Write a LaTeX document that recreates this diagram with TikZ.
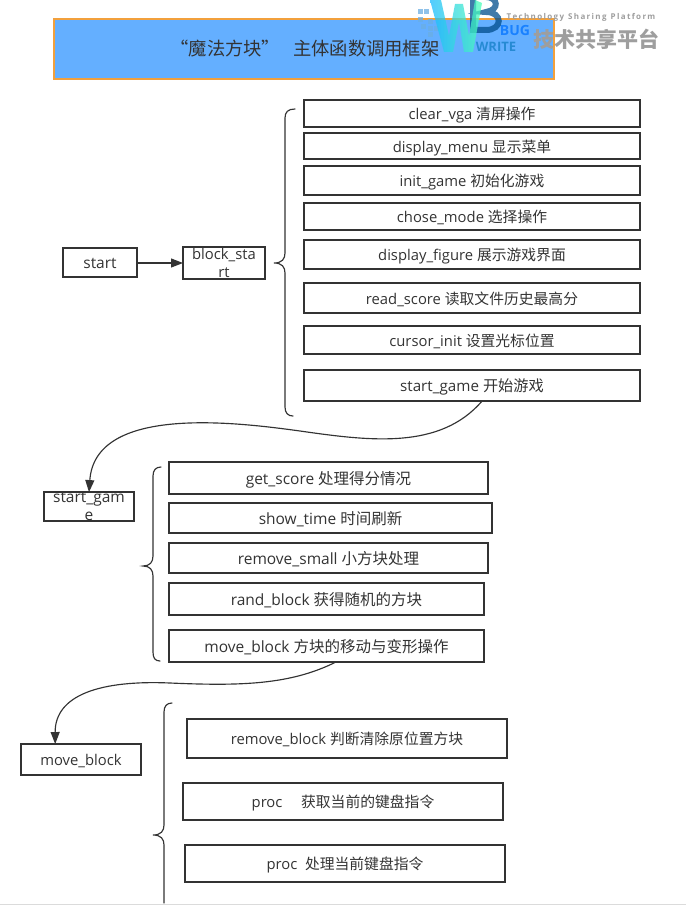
\documentclass[tikz,border=0pt]{standalone}
\usepackage{fontspec}
\setmainfont{Open Sans}
\newfontfamily\cjk{Noto Sans CJK SC}
\usetikzlibrary{calc,arrows.meta}
\definecolor{ink}{HTML}{333333}
\definecolor{titlefill}{HTML}{64AFFF}
\definecolor{titleline}{HTML}{F2A03C}
\newcommand{\cj}[1]{{\cjk #1}}
\newcommand{\bigtx}{\fontsize{15.5}{18.5}\selectfont}
\newcommand{\bxm}[6]{\node[boxn,minimum width={(#4-#2)*1pt},minimum height={(#5-#3)*1pt}] (#1) at ({(#2+#4)/2},{(#3+#5)/2}) {#6};}
\newcommand{\bx}[6]{\bxm{#1}{#2}{#3}{#4}{#5}{\raisebox{-6pt}[0pt][0pt]{#6}}}
\tikzset{
  x=1pt,y=-1pt,
  boxn/.style={draw=ink,line width=1.15pt,text=ink,inner sep=0pt,outer sep=0pt,align=center,font=\fontsize{14.8}{18.5}\selectfont},
  conn/.style={draw=ink,line width=1.15pt,-{Triangle[length=12pt,width=9pt]}},
  brace/.style={draw=ink,line width=1.15pt,line cap=round},
}
\begin{document}
\begin{tikzpicture}
\useasboundingbox (0,0) rectangle (686,907);
\node[boxn,draw=titleline,fill=titlefill,line width=1.8pt,minimum width=500pt,minimum height=60pt,font=\fontsize{18.3}{22}\selectfont] (title) at (304,49) {\hspace*{2pt}\cj{“魔法方块”\hspace{13pt}主体函数调用框架}};
% boxes
\bx{clear}{304}{100}{640}{127}{clear\_vga \cj{清屏操作}}
\bx{menu}{304}{133}{640}{159}{display\_menu \cj{显示菜单}}
\bx{init}{304}{166}{640}{195}{init\_game \cj{初始化游戏}}
\bx{chose}{304}{203}{640}{230}{chose\_mode \cj{选择操作}}
\bx{figure}{304}{240}{640}{269}{display\_figure \cj{展示游戏界面}}
\bx{read}{304}{283}{640}{313}{read\_score \cj{读取文件历史最高分}}
\bx{cursor}{304}{326}{640}{354}{cursor\_init \cj{设置光标位置}}
\bx{sgame}{304}{370}{640}{401}{\fontsize{15.2}{18.5}\selectfont start\_game \cj{开始游戏}}
\bx{start}{63}{248}{137}{277}{\bigtx start}
\bxm{bstart}{183}{247}{265}{279}{block\_sta\\rt}
\bxm{sgb}{44}{493}{134}{520}{\bigtx\raisebox{-1pt}{start\_gam}\\[1pt]\bigtx e}
\bx{score}{169}{462}{488}{494}{\bigtx get\_score \cj{处理得分情况}}
\bx{show}{169}{503}{492}{533}{\bigtx show\_time \cj{时间刷新}}
\bx{small}{169}{543}{488}{573}{\bigtx remove\_small \cj{小方块处理}}
\bx{rand}{169}{583}{484}{615}{\bigtx rand\_block \cj{获得随机的方块}}
\bx{move}{169}{630}{484}{662}{\bigtx move\_block \cj{方块的移动与变形操作}}
\bx{mvb}{21}{744}{141}{775}{move\_block}
\bx{rem}{187}{719}{507}{758}{remove\_block \cj{判断清除原位置方块}}
\bx{proca}{183}{783}{503}{820}{proc\quad\ \cj{获取当前的键盘指令}}
\bx{procb}{185}{845}{505}{882}{proc \ \cj{处理当前键盘指令}}
% connectors
\draw[conn] (start.east |- 0,263) -- (bstart.west |- 0,263);
\draw[conn] ($(sgame.south west)!0.53!(sgame.south east)$) .. controls (440,450) and (370,441) .. (300,431) .. controls (235,422) and (95,405) .. (sgb.north);
\draw[conn] ($(move.south west)!0.53!(move.south east)$) .. controls (290,685) and (240,686) .. (170,683) .. controls (100,680) and (55,695) .. ($(mvb.north west)!0.285!(mvb.north east)$);
% braces
\draw[brace] (295,109) .. controls (288,109) and (285,112) .. (285,118) -- (285,253) .. controls (285,259) and (282,263) .. (274,263) .. controls (282,263) and (285,267) .. (285,273) -- (285,407) .. controls (285,413) and (288,416) .. (293,416);
\draw[brace] (161,467) .. controls (156,467) and (153,470) .. (153,476) -- (153,556) .. controls (153,562) and (150,566) .. (143,566) .. controls (150,566) and (153,570) .. (153,576) -- (153,652) .. controls (153,658) and (155,661) .. (160,661);
\draw[brace] (172,703) .. controls (167,703) and (164,706) .. (164,712) -- (164,825) .. controls (164,831) and (161,835) .. (153,835) .. controls (161,835) and (164,839) .. (164,845) -- (164,903);
\fill[black!14] (0,904) rectangle (686,905);
% watermark
\begin{scope}[opacity=0.75]
\foreach \a/\b in {418/9,424/9,418/17,428/19,421/24,428/26,434/26,428/32}
  \fill[cyan!70!blue!60] (\a,\b) rectangle +(5,5);
\draw[blue!45!cyan!55!black,line width=6pt] (473,-3) -- (473,30) -- (486,30) .. controls (503,30) and (503,12) .. (486,12) .. controls (500,10) and (498,-3) .. (486,-3);
\shade[left color=cyan!70!blue!90,right color=cyan!60!green!70] (430,0) -- (441,0) -- (449,36) -- (455,4) -- (463,4) -- (469,36) -- (475,0) -- (482,3) -- (473,52) -- (464,52) -- (459,22) -- (453,52) -- (444,52) -- cycle;
\end{scope}
\node[inner sep=0pt,text=blue!55!cyan!90,font=\bfseries\fontsize{14}{14}\selectfont] (wbug) at (515,31) {BUG};
\node[inner sep=0pt,text=cyan!65!blue!90,font=\bfseries\fontsize{13}{13}\selectfont] (wwrite) at (496,47) {WRITE};
\node[inner sep=0pt,text=black!38,font=\bfseries\fontsize{8}{8}\selectfont] (wtech) at (581,17) {T\,e\,c\,h\,n\,o\,l\,o\,g\,y\ \ S\,h\,a\,r\,i\,n\,g\ \ P\,l\,a\,t\,f\,o\,r\,m};
\node[inner sep=0pt,text=black!38,font=\cjk\bfseries\fontsize{21}{21}\selectfont] (wcn) at (596,39) {技术共享平台};
\end{tikzpicture}
\end{document}
